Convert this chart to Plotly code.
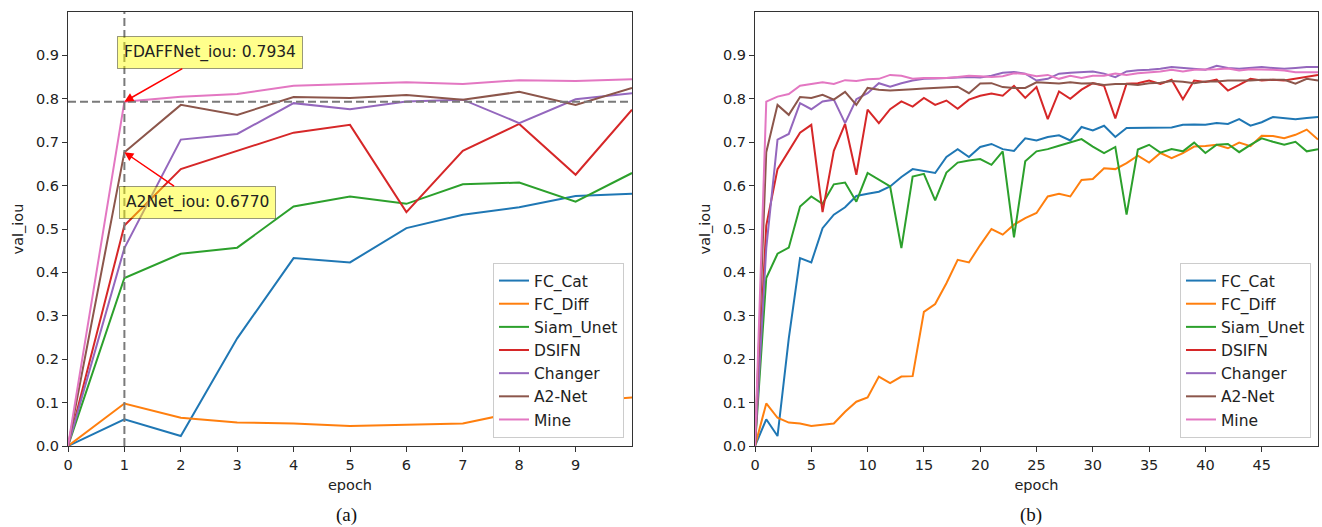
import plotly.graph_objects as go

epochs = list(range(51))

fc_cat = [0, 0.0615, 0.023, 0.248, 0.433, 0.423, 0.502, 0.533, 0.550, 0.576, 0.581,
          0.586, 0.598, 0.620, 0.638, 0.633, 0.629, 0.666, 0.684, 0.666, 0.689,
          0.696, 0.684, 0.680, 0.709, 0.704, 0.712, 0.716, 0.704, 0.735, 0.727,
          0.738, 0.712, 0.733, 0.733, 0.733, 0.734, 0.734, 0.740, 0.741, 0.740,
          0.744, 0.742, 0.753, 0.738, 0.746, 0.758, 0.756, 0.753, 0.756, 0.758]
fc_diff = [0, 0.098, 0.065, 0.054, 0.052, 0.046, 0.049, 0.052, 0.079, 0.102, 0.112,
           0.160, 0.145, 0.160, 0.161, 0.309, 0.327, 0.375, 0.429, 0.423, 0.463,
           0.500, 0.487, 0.510, 0.525, 0.537, 0.575, 0.581, 0.575, 0.613, 0.615,
           0.640, 0.638, 0.652, 0.669, 0.653, 0.675, 0.663, 0.675, 0.690, 0.691,
           0.694, 0.686, 0.699, 0.691, 0.715, 0.714, 0.709, 0.717, 0.729, 0.706]
siam_unet = [0, 0.387, 0.443, 0.457, 0.552, 0.575, 0.558, 0.603, 0.607, 0.563, 0.629,
             0.613, 0.598, 0.456, 0.621, 0.627, 0.566, 0.630, 0.653, 0.658, 0.661,
             0.648, 0.679, 0.481, 0.656, 0.679, 0.684, 0.692, 0.699, 0.707, 0.690,
             0.675, 0.689, 0.533, 0.683, 0.694, 0.676, 0.684, 0.679, 0.699, 0.675,
             0.694, 0.696, 0.677, 0.694, 0.709, 0.701, 0.694, 0.701, 0.679, 0.684]
dsifn = [0, 0.508, 0.638, 0.680, 0.722, 0.740, 0.539, 0.680, 0.742, 0.625, 0.775,
         0.744, 0.776, 0.794, 0.782, 0.802, 0.786, 0.796, 0.777, 0.798, 0.807,
         0.812, 0.807, 0.830, 0.802, 0.827, 0.753, 0.817, 0.800, 0.821, 0.836,
         0.830, 0.755, 0.835, 0.836, 0.842, 0.834, 0.844, 0.799, 0.842, 0.839,
         0.844, 0.819, 0.832, 0.846, 0.842, 0.844, 0.842, 0.846, 0.850, 0.855]
changer = [0, 0.456, 0.706, 0.719, 0.790, 0.776, 0.794, 0.798, 0.744, 0.799, 0.813,
           0.836, 0.828, 0.836, 0.842, 0.846, 0.847, 0.848, 0.848, 0.850, 0.849,
           0.853, 0.860, 0.862, 0.858, 0.842, 0.846, 0.858, 0.860, 0.862, 0.863,
           0.858, 0.850, 0.863, 0.866, 0.867, 0.869, 0.873, 0.871, 0.869, 0.867,
           0.876, 0.871, 0.869, 0.871, 0.873, 0.871, 0.869, 0.871, 0.873, 0.873]
a2net = [0, 0.677, 0.786, 0.763, 0.804, 0.802, 0.809, 0.798, 0.816, 0.786, 0.825,
         0.821, 0.819, 0.820, 0.822, 0.824, 0.825, 0.827, 0.828, 0.813, 0.835,
         0.836, 0.827, 0.825, 0.825, 0.838, 0.836, 0.835, 0.838, 0.835, 0.836,
         0.832, 0.834, 0.834, 0.832, 0.836, 0.837, 0.841, 0.839, 0.836, 0.840,
         0.840, 0.842, 0.842, 0.842, 0.844, 0.844, 0.844, 0.835, 0.846, 0.842]
mine = [0, 0.7934, 0.805, 0.811, 0.830, 0.834, 0.838, 0.834, 0.843, 0.841, 0.845,
        0.846, 0.855, 0.853, 0.846, 0.848, 0.848, 0.848, 0.850, 0.853, 0.852,
        0.850, 0.852, 0.859, 0.857, 0.852, 0.855, 0.846, 0.853, 0.848, 0.853,
        0.853, 0.858, 0.855, 0.859, 0.861, 0.863, 0.867, 0.863, 0.867, 0.867,
        0.868, 0.870, 0.865, 0.868, 0.868, 0.867, 0.865, 0.861, 0.861, 0.861]

series_names = ["FC_Cat", "FC_Diff", "Siam_Unet", "DSIFN", "Changer", "A2-Net", "Mine"]
series_values = [fc_cat, fc_diff, siam_unet, dsifn, changer, a2net, mine]
colors = ["#1f77b4", "#ff7f0e", "#2ca02c", "#d62728", "#9467bd", "#8c564b", "#e377c2"]

zoom_epochs = 10
best_epoch = 1
mine_best = 0.7934
a2net_best = 0.6770

y_ticks = [0.0, 0.1, 0.2, 0.3, 0.4, 0.5, 0.6, 0.7, 0.8, 0.9]
x_ticks_a = list(range(10))
x_ticks_b = list(range(0, 50, 5))

W, H = 1322, 527
fig = go.Figure()

for name, vals, col in zip(series_names, series_values, colors):
    fig.add_trace(go.Scatter(x=epochs[:zoom_epochs + 1], y=vals[:zoom_epochs + 1], mode="lines",
                             name=name, line=dict(color=col, width=2),
                             xaxis="x", yaxis="y", legend="legend"))
for name, vals, col in zip(series_names, series_values, colors):
    fig.add_trace(go.Scatter(x=epochs, y=vals, mode="lines",
                             name=name, line=dict(color=col, width=2),
                             xaxis="x2", yaxis="y2", legend="legend2"))

axis_common = dict(showline=True, linecolor="#333333", linewidth=1.2, mirror=True,
                   ticks="outside", ticklen=5, tickcolor="#333333", tickwidth=1.2,
                   showgrid=False, zeroline=False, automargin=False,
                   tickfont=dict(family="DejaVu Sans", size=14.5, color="#222222"),
                   title_font=dict(family="DejaVu Sans", size=14.5, color="#222222"))

xd1 = [68 / W, 632 / W]
xd2 = [755 / W, 1318 / W]
yd = [1 - 446 / H, 1 - 12 / H]

fig.update_layout(
    width=W, height=H,
    margin=dict(l=0, r=0, t=0, b=0),
    paper_bgcolor="white", plot_bgcolor="white",
    xaxis=dict(domain=xd1, range=[0, zoom_epochs], tickvals=x_ticks_a, anchor="y",
               title=dict(text="epoch", standoff=8), **axis_common),
    yaxis=dict(domain=yd, range=[0, 1.0], tickvals=y_ticks, tickformat=".1f", anchor="x",
               title=dict(text="val_iou", standoff=8), **axis_common),
    xaxis2=dict(domain=xd2, range=[0, 50], tickvals=x_ticks_b, anchor="y2",
                title=dict(text="epoch", standoff=8), **axis_common),
    yaxis2=dict(domain=yd, range=[0, 1.0], tickvals=y_ticks, tickformat=".1f", anchor="x2",
                title=dict(text="val_iou", standoff=8), **axis_common),
    legend=dict(x=624 / W, y=1 - 438 / H, xanchor="right", yanchor="bottom",
                bgcolor="white", bordercolor="#cccccc", borderwidth=1,
                font=dict(family="DejaVu Sans", size=15.5, color="#222222"),
                tracegroupgap=0),
    legend2=dict(x=1311 / W, y=1 - 438 / H, xanchor="right", yanchor="bottom",
                 bgcolor="white", bordercolor="#cccccc", borderwidth=1,
                 font=dict(family="DejaVu Sans", size=15.5, color="#222222"),
                 tracegroupgap=0),
    showlegend=True,
)

# dashed guide lines on the left chart
fig.add_shape(type="line", xref="x", yref="y domain", x0=best_epoch, x1=best_epoch, y0=0, y1=1,
              line=dict(color="#7a7a7a", width=2, dash="8px,4px"))
fig.add_shape(type="line", xref="x domain", yref="y", x0=0, x1=1, y0=mine_best, y1=mine_best,
              line=dict(color="#7a7a7a", width=2, dash="8px,4px"))

ann_font = dict(family="DejaVu Sans", size=15.5, color="#222222")
fig.add_annotation(x=best_epoch, y=mine_best, xref="x", yref="y",
                   text=f"FDAFFNet_iou: {mine_best:.4f}", showarrow=True,
                   ax=86, ay=-49, arrowcolor="red", arrowwidth=1.5, arrowhead=2, arrowsize=1.2,
                   bgcolor="rgba(255,255,0,0.45)", bordercolor="rgba(0,0,0,0.4)", borderwidth=1,
                   borderpad=6, font=ann_font)
fig.add_annotation(x=best_epoch, y=a2net_best, xref="x", yref="y",
                   text=f"A2Net_iou: {a2net_best:.4f}", showarrow=True,
                   ax=73, ay=50, arrowcolor="red", arrowwidth=1.5, arrowhead=2, arrowsize=1.2,
                   bgcolor="rgba(255,255,0,0.45)", bordercolor="rgba(0,0,0,0.4)", borderwidth=1,
                   borderpad=6, font=ann_font)

cap_font = dict(family="Liberation Serif", size=19, color="#111111")
fig.add_annotation(x=(xd1[0] + xd1[1]) / 2 - 4 / W, y=1 - 515 / H, xref="paper", yref="paper",
                   text="(a)", showarrow=False, font=cap_font, xanchor="center", yanchor="middle")
fig.add_annotation(x=(xd2[0] + xd2[1]) / 2 - 6 / W, y=1 - 515 / H, xref="paper", yref="paper",
                   text="(b)", showarrow=False, font=cap_font, xanchor="center", yanchor="middle")

fig.write_html("out.html", config={"displayModeBar": False},
               post_script="document.body.style.margin='0';document.body.style.overflow='hidden';")
